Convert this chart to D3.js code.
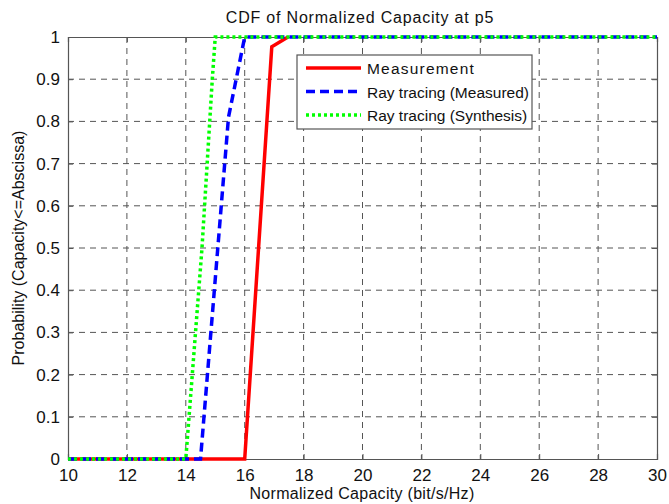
<!DOCTYPE html>
<html><head><meta charset="utf-8">
<script src="https://cdn.jsdelivr.net/npm/d3@7"></script>
<style>body{margin:0;background:#fff}svg{display:block;font-family:"Liberation Sans",Arial,sans-serif}</style>
</head><body><svg id="c" width="669" height="504"></svg>
<script>
const xTicks = [10,12,14,16,18,20,22,24,26,28,30];
const yTicks = [0,0.1,0.2,0.3,0.4,0.5,0.6,0.7,0.8,0.9,1];
const yTickLabels = ["0","0.1","0.2","0.3","0.4","0.5","0.6","0.7","0.8","0.9","1"];
const measX = [10,16,16.92,17.47];
const measY = [0,0,0.977,1];
const rtMeasX = [10,14.5,15.45,16,30];
const rtMeasY = [0,0,0.81,1,1];
const rtSynX = [10,14,14.55,14.9,15,30];
const rtSynY = [0,0,0.5,0.9,1,1];
const seriesNames = ["Measurement","Ray tracing (Measured)","Ray tracing (Synthesis)"];

const svg = d3.select("#c");
const m = {l:68,r:657,t:37,b:459};
const x = d3.scaleLinear().domain([10,30]).range([m.l,m.r]);
const y = d3.scaleLinear().domain([0,1]).range([m.b,m.t]);

// grid
svg.append("g").selectAll("line").data(xTicks.slice(1,-1)).join("line")
  .attr("x1",d=>x(d)).attr("x2",d=>x(d)).attr("y1",m.t).attr("y2",m.b)
  .attr("stroke","#555").attr("stroke-width",1).attr("stroke-dasharray","6,5");
svg.append("g").selectAll("line").data(yTicks.slice(1,-1)).join("line")
  .attr("x1",m.l).attr("x2",m.r).attr("y1",d=>y(d)).attr("y2",d=>y(d))
  .attr("stroke","#555").attr("stroke-width",1).attr("stroke-dasharray","6,5");

// axes
const xa = svg.append("g").attr("transform",`translate(0,${m.b})`)
  .call(d3.axisBottom(x).tickValues(xTicks).tickSize(-5).tickPadding(10).tickFormat(d3.format("d")));
const xa2 = svg.append("g").attr("transform",`translate(0,${m.t})`)
  .call(d3.axisTop(x).tickValues(xTicks).tickSize(-5).tickFormat(""));
const ya = svg.append("g").attr("transform",`translate(${m.l},0)`)
  .call(d3.axisLeft(y).tickValues(yTicks).tickSize(-5).tickPadding(8).tickFormat((d,i)=>yTickLabels[i]));
const ya2 = svg.append("g").attr("transform",`translate(${m.r},0)`)
  .call(d3.axisRight(y).tickValues(yTicks).tickSize(-5).tickFormat(""));
[xa,xa2,ya,ya2].forEach(g=>{
  g.select(".domain").attr("stroke","#555").attr("stroke-width",1.2);
  g.selectAll(".tick line").attr("stroke","#555");
  g.selectAll("text").attr("font-size",17).attr("fill","#111").attr("font-family","Liberation Sans, Arial, sans-serif");
});

const line = d3.line().x(d=>x(d[0])).y(d=>y(d[1]));
const lineData = [
  {pts:d3.zip(measX,measY), c:"#ff0000", dash:null},
  {pts:d3.zip(rtMeasX,rtMeasY), c:"#0000ff", dash:"9,5"},
  {pts:d3.zip(rtSynX,rtSynY), c:"#00ff00", dash:"3,3"}
];
svg.append("defs").append("clipPath").attr("id","cp").append("rect")
  .attr("x",m.l).attr("y",m.t-2).attr("width",m.r-m.l).attr("height",m.b-m.t+4);
svg.append("g").attr("clip-path","url(#cp)").selectAll("path").data(lineData).join("path")
  .attr("d",d=>line(d.pts)).attr("fill","none").attr("stroke",d=>d.c)
  .attr("stroke-width",3.5).attr("stroke-dasharray",d=>d.dash);

// legend
const lg = svg.append("g");
lg.append("rect").attr("x",297).attr("y",55).attr("width",235).attr("height",74)
  .attr("fill","#fff").attr("stroke","#555").attr("stroke-width",1.2);
lineData.forEach((d,i)=>{
  const yy = 68 + i*23.5;
  lg.append("line").attr("x1",306).attr("x2",361).attr("y1",yy).attr("y2",yy)
    .attr("stroke",d.c).attr("stroke-width",3.5).attr("stroke-dasharray",d.dash);
  lg.append("text").attr("x",367).attr("y",yy+6).attr("font-size",15.5).attr("fill","#111")
    .attr("letter-spacing", i===0 ? 1.2 : 0).text(seriesNames[i]);
});

// titles
svg.append("text").attr("x",360).attr("y",23).attr("text-anchor","middle").attr("font-size",16).attr("letter-spacing",0.8).attr("fill","#111")
  .text("CDF of Normalized Capacity at p5");
svg.append("text").attr("x",362).attr("y",499).attr("text-anchor","middle").attr("font-size",16).attr("letter-spacing",0.3).attr("fill","#111")
  .text("Normalized Capacity (bit/s/Hz)");
svg.append("text").attr("transform","translate(24,248) rotate(-90)").attr("text-anchor","middle").attr("font-size",16).attr("fill","#111")
  .text("Probability (Capacity<=Abscissa)");
</script></body></html>
